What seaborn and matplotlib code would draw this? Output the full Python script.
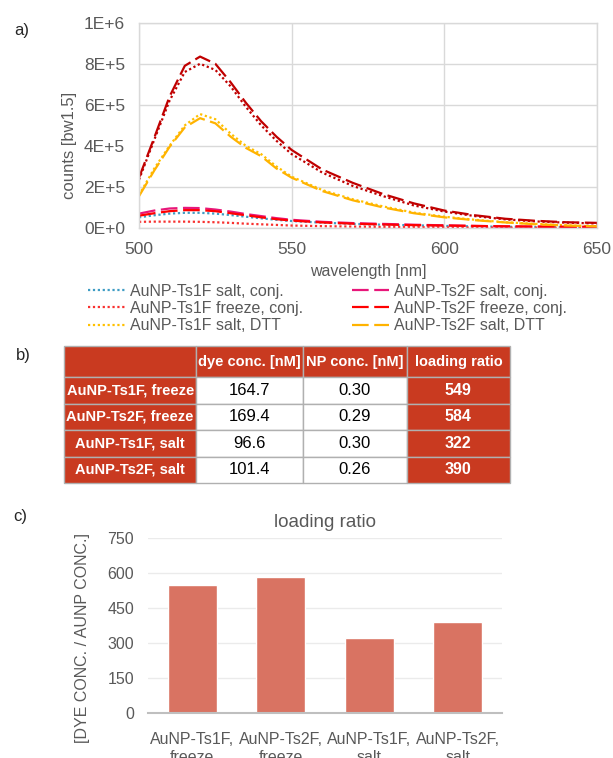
import matplotlib
matplotlib.use("Agg")
import matplotlib.pyplot as plt
import numpy as np
import pandas as pd
import seaborn as sns

# --- data -----------------------------------------------------------------
wavelength = [500, 505, 510, 515, 520, 525, 530, 535, 540, 545, 550,
              560, 570, 580, 590, 600, 610, 620, 630, 640, 650]

# spectra, in units of 1E+5 counts
ts1f_salt_conj = [0.52, 0.62, 0.70, 0.74, 0.74, 0.70, 0.63, 0.55, 0.47, 0.40, 0.34,
                  0.26, 0.20, 0.16, 0.13, 0.10, 0.08, 0.06, 0.05, 0.04, 0.04]
ts1f_freeze_conj = [0.30, 0.31, 0.31, 0.31, 0.30, 0.28, 0.25, 0.21, 0.18, 0.15, 0.12,
                    0.09, 0.07, 0.05, 0.04, 0.03, 0.02, 0.02, 0.01, 0.01, 0.01]
ts1f_salt_dtt = [1.60, 2.90, 4.00, 5.00, 5.55, 5.30, 4.60, 4.00, 3.60, 3.00, 2.50,
                 1.85, 1.40, 1.05, 0.75, 0.55, 0.40, 0.28, 0.20, 0.13, 0.08]
ts2f_salt_conj = [0.70, 0.85, 0.95, 0.98, 0.97, 0.90, 0.80, 0.68, 0.58, 0.48, 0.40,
                  0.30, 0.24, 0.20, 0.16, 0.13, 0.10, 0.08, 0.06, 0.05, 0.05]
ts2f_freeze_conj = [0.60, 0.72, 0.82, 0.87, 0.87, 0.82, 0.72, 0.62, 0.52, 0.43, 0.36,
                    0.27, 0.21, 0.17, 0.14, 0.12, 0.10, 0.08, 0.07, 0.06, 0.06]
ts2f_salt_dtt = [1.55, 2.80, 3.95, 4.90, 5.35, 5.10, 4.45, 3.90, 3.50, 2.90, 2.45,
                 1.80, 1.35, 1.00, 0.72, 0.52, 0.38, 0.27, 0.18, 0.12, 0.08]
ts1f_freeze_dtt = [2.35, 4.30, 6.20, 7.60, 8.00, 7.70, 6.90, 5.90, 5.00, 4.25, 3.60,
                   2.70, 2.05, 1.55, 1.10, 0.80, 0.58, 0.42, 0.32, 0.26, 0.22]
ts2f_freeze_dtt = [2.45, 4.40, 6.40, 7.90, 8.35, 8.00, 7.10, 6.10, 5.20, 4.45, 3.80,
                   2.85, 2.20, 1.65, 1.20, 0.85, 0.62, 0.45, 0.35, 0.28, 0.25]

series_names = ["AuNP-Ts1F salt, conj.", "AuNP-Ts1F freeze, conj.", "AuNP-Ts1F salt, DTT",
                "AuNP-Ts2F salt, conj.", "AuNP-Ts2F freeze, conj.", "AuNP-Ts2F salt, DTT",
                "AuNP-Ts1F freeze, DTT", "AuNP-Ts2F freeze, DTT"]
series_values = [ts1f_salt_conj, ts1f_freeze_conj, ts1f_salt_dtt,
                 ts2f_salt_conj, ts2f_freeze_conj, ts2f_salt_dtt,
                 ts1f_freeze_dtt, ts2f_freeze_dtt]
series_colors = ["#3E9CC4", "#F8312F", "#FFC000",
                 "#E8177A", "#FF0000", "#FFB300",
                 "#C00000", "#C00000"]
series_dotted = [True, True, True, False, False, False, True, False]
legend_series = series_names[:6]

y_ticks_a = [0, 2e5, 4e5, 6e5, 8e5, 1e6]
y_ticklabels_a = ["0E+0", "2E+5", "4E+5", "6E+5", "8E+5", "1E+6"]
x_ticks_a = [500, 550, 600, 650]

# table / bar data
samples = ["AuNP-Ts1F, freeze", "AuNP-Ts2F, freeze", "AuNP-Ts1F, salt", "AuNP-Ts2F, salt"]
dye_conc = [164.7, 169.4, 96.6, 101.4]
np_conc = [0.30, 0.29, 0.30, 0.26]
loading_ratio = [549, 584, 322, 390]
table_header = ["", "dye conc. [nM]", "NP conc. [nM]", "loading ratio"]
bar_labels = ["AuNP-Ts1F,\nfreeze", "AuNP-Ts2F,\nfreeze", "AuNP-Ts1F,\nsalt", "AuNP-Ts2F,\nsalt"]
y_ticks_c = [0, 150, 300, 450, 600, 750]

# --- style ----------------------------------------------------------------
sns.set_theme(style="white")
plt.rcParams["font.family"] = ["Liberation Sans", "DejaVu Sans"]
gray_txt = "#595959"
grid_col = "#D9D9D9"
table_red = "#C93A20"
bar_red = "#D97362"

W, H = 613, 758
fig = plt.figure(figsize=(W / 100, H / 100), dpi=100)


def px_axes(left, top, right, bottom):
    return fig.add_axes([left / W, 1 - bottom / H, (right - left) / W, (bottom - top) / H])


# --- a) spectra -----------------------------------------------------------
ax_a = px_axes(139, 22.7, 597, 228)
rows = []
for name, vals in zip(series_names, series_values):
    for wl, v in zip(wavelength, vals):
        rows.append({"wavelength": wl, "counts": v * 1e5, "series": name})
df = pd.DataFrame(rows)
palette = dict(zip(series_names, series_colors))
dashes = {n: ((1, 1.2) if d else (7.5, 2.5)) for n, d in zip(series_names, series_dotted)}
sns.lineplot(data=df, x="wavelength", y="counts", hue="series", style="series",
             hue_order=series_names, style_order=series_names,
             palette=palette, dashes=dashes, linewidth=1.6, ax=ax_a, legend=True)
handles, labels = ax_a.get_legend_handles_labels()
ax_a.get_legend().remove()
hmap = dict(zip(labels, handles))
leg = fig.legend([hmap[n] for n in legend_series], legend_series, ncol=2,
                 loc="upper left", bbox_to_anchor=(88 / W, 1 - 284 / H),
                 frameon=False, fontsize=11.5, handlelength=2.3, handletextpad=0.3,
                 columnspacing=3.1, labelspacing=0.13, borderpad=0, borderaxespad=0)
for t in leg.get_texts():
    t.set_color(gray_txt)
for h in leg.legend_handles:
    h.set_linewidth(1.6)

ax_a.set_xlim(500, 650)
ax_a.set_ylim(0, 1e6)
ax_a.set_xticks(x_ticks_a)
ax_a.set_yticks(y_ticks_a)
ax_a.set_yticklabels(y_ticklabels_a)
ax_a.grid(True, color=grid_col, linewidth=1)
ax_a.set_axisbelow(True)
for s in ax_a.spines.values():
    s.set_color(grid_col)
    s.set_linewidth(1)
ax_a.tick_params(axis="both", length=0, labelsize=12.5, labelcolor=gray_txt)
ax_a.tick_params(axis="x", pad=10)
ax_a.tick_params(axis="y", pad=10)
ax_a.set_xlabel("wavelength [nm]", fontsize=11.5, color=gray_txt, labelpad=5)
ax_a.set_ylabel("counts [bw1.5]", fontsize=12, color=gray_txt)
ax_a.yaxis.set_label_coords(-0.135, 0.40)
fig.text(14 / W, 1 - 30 / H, "a)", fontsize=12, color="#262626", va="center")

# --- b) table -------------------------------------------------------------
ax_b = px_axes(64, 346, 510, 483)
ax_b.axis("off")
cell_text = [table_header]
cell_colors = [[table_red] * 4]
for s, d, n, r in zip(samples, dye_conc, np_conc, loading_ratio):
    cell_text.append([s, f"{d:.1f}", f"{n:.2f}", f"{r:d}"])
    cell_colors.append([table_red, "white", "white", table_red])
col_w = [132, 106, 104, 103]
tbl = ax_b.table(cellText=cell_text, cellColours=cell_colors, cellLoc="center",
                 colWidths=[w / sum(col_w) for w in col_w], bbox=[0, 0, 1, 1])
tbl.auto_set_font_size(False)
for (r, c), cell in tbl.get_celld().items():
    cell.set_height(31 if r == 0 else 26.5)
    cell.set_edgecolor("#B0B0B0")
    cell.set_linewidth(1)
    txt = cell.get_text()
    if r == 0 or c == 0 or c == 3:
        txt.set_color("white")
        txt.set_fontweight("bold")
        txt.set_fontsize(10.5 if (r == 0 or c == 0) else 11.5)
    else:
        txt.set_color("black")
        txt.set_fontsize(12)
fig.text(16 / W, 1 - 356 / H, "b)", fontsize=12, color="#262626", va="center")

# --- c) bars --------------------------------------------------------------
ax_c = px_axes(148, 538, 502, 713)
sns.barplot(x=bar_labels, y=loading_ratio, color=bar_red, saturation=1, width=0.55, ax=ax_c)
ax_c.set_ylim(0, 750)
ax_c.set_xlim(-0.5, 3.5)
ax_c.set_yticks(y_ticks_c)
ax_c.yaxis.grid(True, color="#EBEBEB", linewidth=1)
ax_c.set_axisbelow(True)
for k in ["left", "right", "top"]:
    ax_c.spines[k].set_visible(False)
ax_c.spines["bottom"].set_color("#BFBFBF")
ax_c.spines["bottom"].set_linewidth(1.5)
ax_c.tick_params(axis="both", length=0, labelsize=11.5, labelcolor=gray_txt)
ax_c.tick_params(axis="x", pad=14)
ax_c.tick_params(axis="y", pad=10)
ax_c.set_title("loading ratio", fontsize=13.5, color=gray_txt, pad=8)
ax_c.set_ylabel("[DYE CONC. / AUNP CONC.]", fontsize=11.5, color=gray_txt)
ax_c.yaxis.set_label_coords(-0.164, 0.43)
fig.text(13 / W, 1 - 516 / H, "c)", fontsize=12, color="#262626", va="center")

fig.savefig("out.png", dpi=100)
